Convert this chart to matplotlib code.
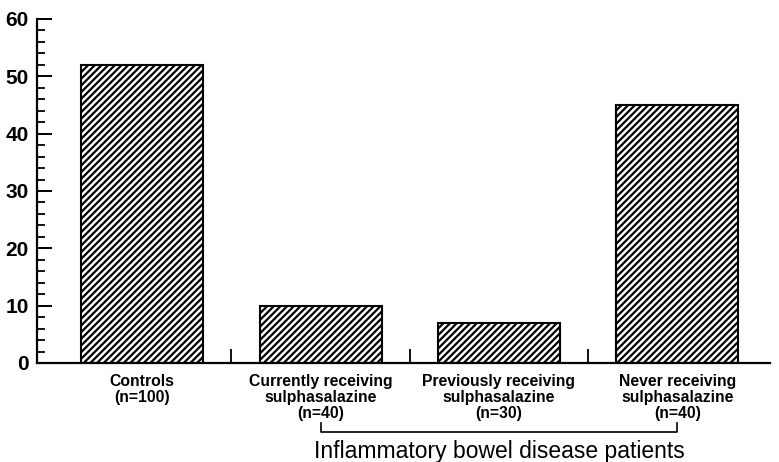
import matplotlib
matplotlib.use("Agg")
import matplotlib.pyplot as plt
import matplotlib.transforms as mtransforms
import numpy as np

groups = ["Controls\n(n=100)",
          "Currently receiving\nsulphasalazine\n(n=40)",
          "Previously receiving\nsulphasalazine\n(n=30)",
          "Never receiving\nsulphasalazine\n(n=40)"]
values = [52, 10, 7, 45]
bracket_label = "Inflammatory bowel disease patients"

plt.rcParams['font.family'] = ['Liberation Sans', 'DejaVu Sans']
plt.rcParams['hatch.linewidth'] = 1.6

fig = plt.figure(figsize=(7.79, 4.62), dpi=100)
ax = fig.add_axes([0.0475, 0.2143, 0.941, 0.7446])

x = np.arange(len(values))
ax.bar(x, values, width=0.685, color="white", edgecolor="black",
       linewidth=1.5, hatch="/////")

ax.set_xlim(-0.59, 3.52)
ax.set_ylim(0, 60)

for side in ["top", "right"]:
    ax.spines[side].set_visible(False)
for side in ["left", "bottom"]:
    ax.spines[side].set_linewidth(1.6)

# y axis: major every 10, minor every 2, pointing inward
ax.set_yticks(np.arange(0, 61, 10))
ax.set_yticks(np.arange(0, 61, 2), minor=True)
ax.tick_params(axis="y", which="major", direction="in", length=11, width=1.4,
               pad=6, labelsize=15)
ax.tick_params(axis="y", which="minor", direction="in", length=6, width=1.3)
for lab in ax.get_yticklabels():
    lab.set_fontweight("bold")

# x axis: labels under bars, short ticks between groups
ax.set_xticks(x)
ax.set_xticklabels(groups, fontsize=11.3, fontweight="bold", linespacing=1.08)
ax.set_xticks(x[:-1] + 0.5, minor=True)
ax.tick_params(axis="x", which="major", length=0, pad=8)
ax.tick_params(axis="x", which="minor", direction="in", length=10, width=1.3)

# bracket under the patient groups
trans = mtransforms.blended_transform_factory(ax.transData, ax.transAxes)
ax.plot([x[1], x[1], x[3], x[3]], [-0.174, -0.2006, -0.2006, -0.174],
        color="black", lw=1.2, transform=trans, clip_on=False)
ax.text(x[2], -0.276, bracket_label, transform=trans, ha="center",
        va="baseline", fontsize=16.5)

fig.savefig("out.png", dpi=100)
